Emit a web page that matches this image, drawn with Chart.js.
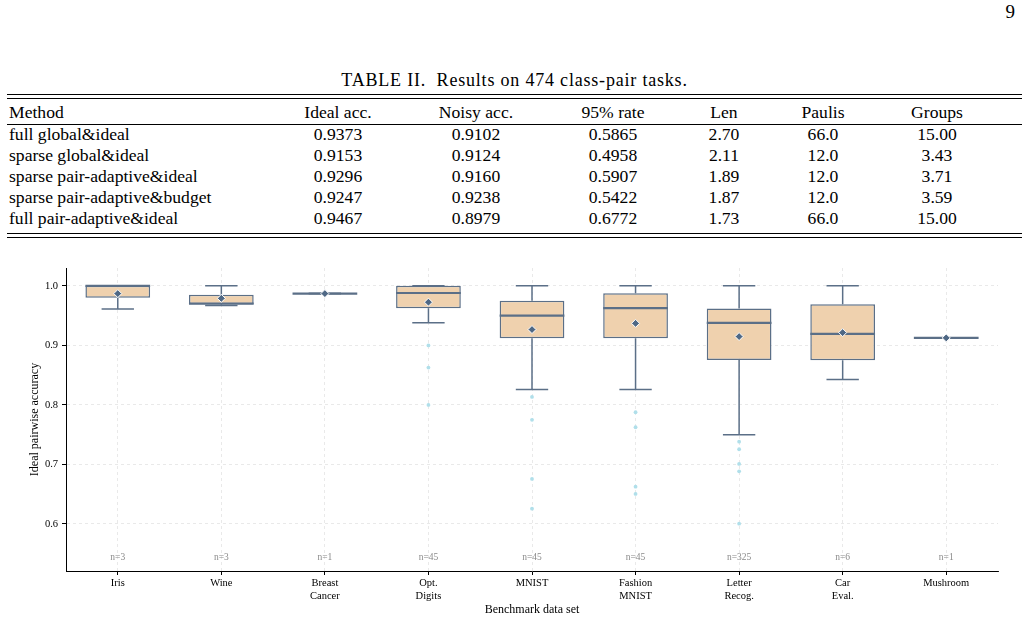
<!DOCTYPE html>
<html>
<head>
<meta charset="utf-8">
<script src="https://cdn.jsdelivr.net/npm/chart.js@4.4.0/dist/chart.umd.min.js"></script>
<style>
  body { margin: 0; width: 1029px; height: 620px; background: #fff; position: relative; overflow: hidden;
         font-family: "Liberation Serif", "DejaVu Serif", serif; color: #000; }
  #pageno { position: absolute; right: 14px; top: 1px; font-size: 19px; }
  #caption { position: absolute; left: 0; width: 1029px; top: 70px; text-align: center; font-size: 18px; letter-spacing: 0.8px; }
  .rule { position: absolute; left: 7px; width: 1015px; height: 1.3px; background: #000; }
  .row { position: absolute; left: 0; width: 1029px; height: 20px; line-height: 20px; font-size: 17.6px; white-space: nowrap;
         font-family: "Liberation Serif", serif; }
  .cell { position: absolute; top: 0; width: 140px; text-align: center; }
  .cell.first { left: 9px; width: auto; text-align: left; }
  #wrap { position: absolute; left: 0; top: 250px; width: 1029px; height: 370px; }
</style>
</head>
<body>
<div id="pageno">9</div>
<div id="caption">TABLE II.&nbsp; Results on 474 class-pair tasks.</div>
<div id="wrap"><canvas id="chart"></canvas></div>

<script>
// ---------- Tabella ----------
const headers = ["Method", "Ideal acc.", "Noisy acc.", "95% rate", "Len", "Paulis", "Groups"];
const methods = ["full global&ideal", "sparse global&ideal", "sparse pair-adaptive&ideal",
  "sparse pair-adaptive&budget", "full pair-adaptive&ideal"];
const idealAcc = ["0.9373", "0.9153", "0.9296", "0.9247", "0.9467"];
const noisyAcc = ["0.9102", "0.9124", "0.9160", "0.9238", "0.8979"];
const rate95 = ["0.5865", "0.4958", "0.5907", "0.5422", "0.6772"];
const lens = ["2.70", "2.11", "1.89", "1.87", "1.73"];
const paulis = ["66.0", "12.0", "12.0", "12.0", "66.0"];
const groups = ["15.00", "3.43", "3.71", "3.59", "15.00"];

// ---------- Dati grafico ----------
const categories = ["Iris", "Wine", "Breast Cancer", "Opt. Digits", "MNIST", "Fashion MNIST",
  "Letter Recog.", "Car Eval.", "Mushroom"];
const q1 = [0.980, 0.969, 0.987, 0.9625, 0.912, 0.912, 0.8756, 0.875, 0.9126];
const q3 = [1.000, 0.985, 0.987, 1.000, 0.975, 0.9877, 0.9619, 0.9692, 0.9126];
const medians = [1.000, 0.970, 0.987, 0.988, 0.950, 0.9625, 0.9378, 0.9193, 0.9126];
const whiskerLow = [0.961, 0.967, 0.987, 0.938, 0.8257, 0.8257, 0.750, 0.8425, 0.9126];
const whiskerHigh = [1.000, 1.000, 0.987, 1.000, 1.000, 1.000, 1.000, 1.000, 0.9126];
const means = [0.987, 0.979, 0.987, 0.9726, 0.9266, 0.937, 0.9148, 0.9215, 0.9126];
const outliers = [[], [], [], [0.900, 0.8627, 0.800], [0.8134, 0.775, 0.6756, 0.6257],
  [0.7877, 0.7625, 0.6627, 0.6504], [0.7383, 0.7255, 0.7008, 0.6885, 0.6005], [], []];
const nCounts = [3, 3, 1, 45, 45, 45, 325, 6, 1];
const yTicks = [0.6, 0.7, 0.8, 0.9, 1.0];
const yTickLabels = ["0.6", "0.7", "0.8", "0.9", "1.0"];

const SERIF = '"Liberation Serif", "DejaVu Serif", serif';
const EDGE = "#5b6f87";
const FILL = "#efd1ae";

// colonne: centri in px (layout)
const colCenters = [null, 338, 476, 613, 724, 823, 937];

function addRule(y) {
  const r = document.createElement("div");
  r.className = "rule";
  r.style.top = y + "px";
  document.body.appendChild(r);
}

function addRow(cells, centerY) {
  const row = document.createElement("div");
  row.className = "row";
  row.style.top = (centerY - 10) + "px";
  cells.forEach((txt, c) => {
    const s = document.createElement("span");
    s.className = "cell" + (c === 0 ? " first" : "");
    s.textContent = txt;
    if (c > 0) s.style.left = (colCenters[c] - 70) + "px";
    row.appendChild(s);
  });
  document.body.appendChild(row);
}

addRule(94); addRule(98);
addRow(headers, 112);
addRule(124);
methods.forEach((m, i) => {
  addRow([m, idealAcc[i], noisyAcc[i], rate95[i], lens[i], paulis[i], groups[i]], 134 + i * 21);
});
addRule(233); addRule(237);

// ---------- Plugin box plot (baffi, mediane, n=) ----------
const boxExtras = {
  id: "boxExtras",
  afterDatasetDraw(chart, args) {
    if (args.index !== 0) return;
    const { ctx, scales: { y } } = chart;
    const meta = chart.getDatasetMeta(0);
    const seg = (x1, y1, x2, y2) => { ctx.beginPath(); ctx.moveTo(x1, y1); ctx.lineTo(x2, y2); ctx.stroke(); };
    ctx.save();
    ctx.strokeStyle = EDGE;
    meta.data.forEach((bar, i) => {
      const cx = bar.x, half = bar.width / 2, cap = half / 2;
      ctx.lineWidth = 1.5;
      const yHi = y.getPixelForValue(whiskerHigh[i]);
      const yLo = y.getPixelForValue(whiskerLow[i]);
      seg(cx, y.getPixelForValue(q3[i]), cx, yHi);
      seg(cx, y.getPixelForValue(q1[i]), cx, yLo);
      seg(cx - cap, yHi, cx + cap, yHi);
      seg(cx - cap, yLo, cx + cap, yLo);
      ctx.lineWidth = 2.2;
      const ym = y.getPixelForValue(medians[i]);
      seg(cx - half, ym, cx + half, ym);
    });
    ctx.restore();
  },
  afterDraw(chart) {
    const { ctx, chartArea, scales: { x } } = chart;
    ctx.save();
    ctx.font = "9.5px " + SERIF;
    ctx.fillStyle = "#8a8a8a";
    ctx.textAlign = "center";
    ctx.textBaseline = "middle";
    nCounts.forEach((n, i) => ctx.fillText("n=" + n, x.getPixelForValue(i), chartArea.bottom - 14));
    ctx.restore();
  }
};

const outlierPoints = [];
outliers.forEach((list, i) => list.forEach((v) => outlierPoints.push({ x: categories[i], y: v })));

new Chart(document.getElementById("chart"), {
  type: "bar",
  data: {
    labels: categories,
    datasets: [
      {
        data: q1.map((v, i) => [v, q3[i]]),
        backgroundColor: FILL,
        borderColor: EDGE,
        borderWidth: 1.5,
        borderSkipped: false,
        categoryPercentage: 1,
        barPercentage: 0.625,
        order: 3,
      },
      {
        type: "scatter",
        data: outlierPoints,
        pointRadius: 1.9,
        pointBackgroundColor: "#b0dfea",
        pointBorderWidth: 0,
        order: 2,
      },
      {
        type: "scatter",
        data: means.map((v, i) => ({ x: categories[i], y: v })),
        pointStyle: "rectRot",
        pointRadius: 4,
        pointBackgroundColor: "#4f6885",
        pointBorderColor: "#ffffff",
        pointBorderWidth: 1,
        order: 1,
      },
    ],
  },
  options: {
    responsive: true,
    maintainAspectRatio: false,
    animation: false,
    layout: { padding: { top: 18, right: 31, left: 0, bottom: 0 } },
    plugins: { legend: { display: false }, tooltip: { enabled: false } },
    scales: {
      x: {
        type: "category",
        offset: true,
        grid: { offset: false, color: "#e4e4e4", lineWidth: 0.8, tickColor: "#000", tickLength: 4, tickWidth: 1 },
        border: { color: "#000", width: 1, dash: [3, 3] },
        ticks: {
          callback: (v, i) => categories[i].split(" "),
          font: { family: SERIF, size: 10.5 }, color: "#000", padding: 2,
          maxRotation: 0, autoSkip: false,
        },
        title: { display: true, text: "Benchmark data set", font: { family: SERIF, size: 12 }, color: "#000",
          padding: { top: 0, bottom: 3 } },
        afterFit: (s) => { s.height = 49; },
      },
      y: {
        min: 0.521,
        max: 1.03,
        afterBuildTicks: (s) => { s.ticks = yTicks.map((v) => ({ value: v })); },
        grid: { color: "#e4e4e4", lineWidth: 0.8, tickColor: "#000", tickLength: 4, tickWidth: 1 },
        border: { color: "#000", width: 1, dash: [3, 3] },
        ticks: { callback: (v, i) => yTickLabels[i], font: { family: SERIF, size: 10.5 }, color: "#000", padding: 4 },
        title: { display: true, text: "Ideal pairwise accuracy", font: { family: SERIF, size: 12 }, color: "#000",
          padding: { top: 28, bottom: 0 } },
        afterFit: (s) => { s.width = 66; },
      },
    },
  },
  plugins: [boxExtras],
});
</script>
</body>
</html>
